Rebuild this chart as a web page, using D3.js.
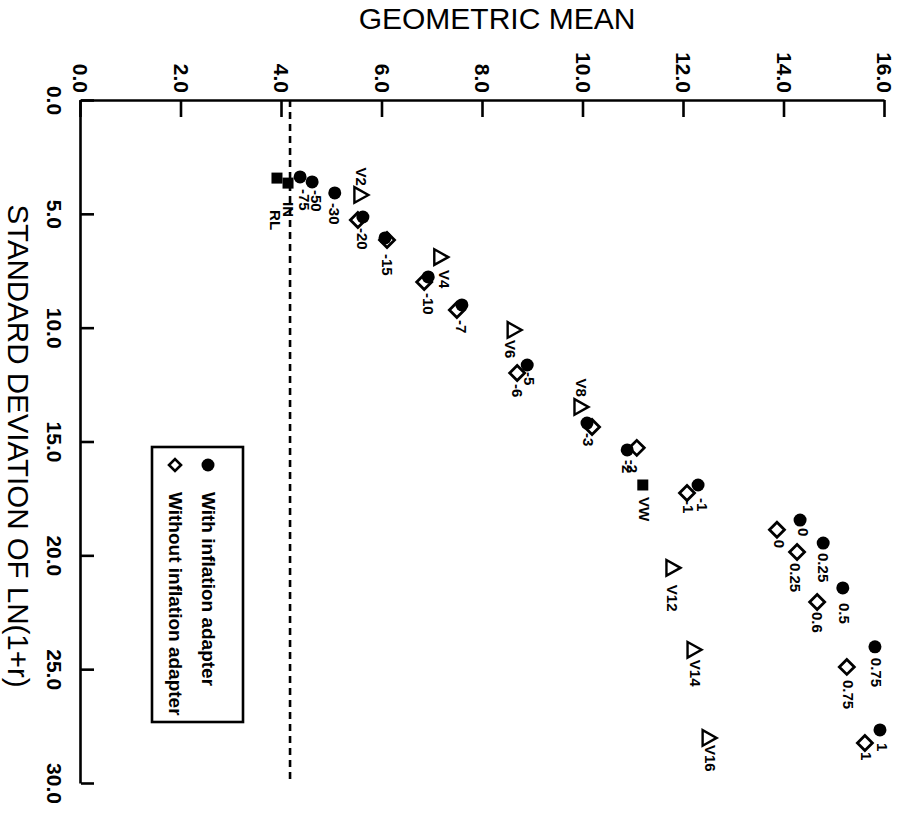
<!DOCTYPE html>
<html><head><meta charset="utf-8">
<script src="https://cdn.jsdelivr.net/npm/d3@7"></script>
<style>body{margin:0;background:#fff} svg{display:block}</style>
</head><body>
<script>
// ---- data (x: standard deviation of ln(1+r), y: geometric mean) ----
const circleLabels = ["-75","-50","-30","-20","-15","-10","-7","-5","-3","-2","-1","0","0.25","0.5","0.75","1"];
const circleSD = [3.38,3.60,4.08,5.14,6.06,7.77,9.00,11.64,14.19,15.37,16.91,18.45,19.46,21.43,24.02,27.67];
const circleGM = [4.36,4.60,5.05,5.61,6.05,6.91,7.58,8.88,10.07,10.87,12.28,14.31,14.77,15.16,15.80,15.90];

const diamondLabels = ["","","","","-6","","-2","-1","0","0.25","0.6","0.75","1"];
const diamondSD = [5.27,6.15,7.99,9.22,11.99,14.36,15.28,17.26,18.88,19.85,22.05,24.90,28.24];
const diamondGM = [5.51,6.09,6.83,7.48,8.68,10.17,11.06,12.06,13.85,14.25,14.65,15.24,15.60];

const squareLabels = ["RL","IN","VW"];
const squareSD = [3.43,3.65,16.91];
const squareGM = [3.90,4.12,11.18];

const triLabels = ["V2","V4","V6","V8","V12","V14","V16"];
const triSD = [4.17,6.90,10.10,13.48,20.55,24.15,28.02];
const triGM = [5.55,7.14,8.60,9.93,11.76,12.18,12.48];

const refLineGM = 4.16;
const sdTicks = [0,5,10,15,20,25,30];
const gmTicks = [0,2,4,6,8,10,12,14,16];
const legendLabels = ["With inflation adapter","Without inflation adapter"];
const xTitle = "STANDARD DEVIATION OF LN(1+r)";
const yTitle = "GEOMETRIC MEAN";

// ---- layout: label nudges [along, across] ----
const nudge = {
  "c:-75":[12,4],"c:-50":[8,4],"c:-30":[10,0],"c:-20":[11,0],"c:-15":[16,2],"c:-10":[16,0],
  "c:-7":[15,0],"c:-5":[7,2],"c:-3":[10,1],"c:-2":[10,0],"c:-1":[13,4],"c:0":[8,3],
  "c:0.25":[10,0],"c:0.5":[15,2],"c:0.75":[11,2],"c:1":[13,3],
  "d:-6":[11,0],"d:-2":[12,-4],"d:-1":[7,1],"d:0":[10,3],"d:0.25":[11,-2],"d:0.6":[10,0],
  "d:0.75":[13,2],"d:1":[9,2],
  "s:RL":[32,-1],"s:IN":[19,0],"s:VW":[12,2],
  "t:V2":[-9,2],"t:V4":[13,5],"t:V6":[10,-3],"t:V8":[-10,2],"t:V12":[17,1],"t:V14":[10,2],"t:V16":[7,2]
};

const FONT = "'Liberation Sans', Arial, Helvetica, sans-serif";
const W = 683, H = 804;
const svg = d3.select("body").append("svg").attr("width",905).attr("height",815)
  .style("font-family", FONT);
svg.append("rect").attr("width",905).attr("height",815).attr("fill","#fff");
// whole chart is rotated 90deg clockwise
const g = svg.append("g").attr("transform","translate(885,100) rotate(90)");

const x = d3.scaleLinear().domain([0,30]).range([0,W]);
const y = d3.scaleLinear().domain([0,16]).range([H,0]);

// axes
const xAxis = g.append("g").attr("transform",`translate(0,${H})`)
  .call(d3.axisBottom(x).tickValues(sdTicks).tickSize(-13).tickSizeOuter(0).tickFormat(d3.format(".1f")));
xAxis.selectAll("text").attr("y",27).attr("dy","0.35em")
  .style("font-size","21px").style("font-weight","bold").style("font-family",FONT).attr("fill","#000");
const yAxis = g.append("g")
  .call(d3.axisLeft(y).tickValues(gmTicks).tickSize(-17).tickSizeOuter(0).tickPadding(7).tickFormat(d3.format(".1f")));
yAxis.selectAll("text").attr("dy","0.35em")
  .style("font-size","21px").style("font-weight","bold").style("font-family",FONT).attr("fill","#000");
[xAxis,yAxis].forEach(a=>{
  a.select(".domain").attr("stroke","#000").attr("stroke-width",2.6);
  a.selectAll(".tick line").attr("stroke","#000").attr("stroke-width",2.6);
});

// titles
g.append("text").attr("x",346).attr("y",H+63).attr("text-anchor","middle")
  .attr("dominant-baseline","central").style("font-size","29.5px").text(xTitle);
g.append("text").attr("transform",`translate(-82,${885-497}) rotate(-90)`).attr("text-anchor","middle")
  .attr("dominant-baseline","central").style("font-size","30px").text(yTitle);

// reference dashed line
g.append("line").attr("x1",x(0)).attr("x2",x(30)).attr("y1",y(refLineGM)).attr("y2",y(refLineGM))
  .attr("stroke","#000").attr("stroke-width",2.6).attr("stroke-dasharray","7,5");

const diamondPath = "M0,-7.5L7.5,0L0,7.5L-7.5,0Z";
const triPath = "M0,-8.5L7.8,5.5L-7.8,5.5Z";

function labels(prefix, labs, sd, gm){
  labs.forEach((l,i)=>{
    if(!l) return;
    const n = nudge[prefix+":"+l] || [11,0];
    g.append("text")
      .attr("x", x(sd[i]) + n[0]).attr("y", y(gm[i]) - n[1])
      .attr("text-anchor", n[0] < 0 ? "end" : "start")
      .attr("dominant-baseline","central")
      .style("font-size","15px").style("font-weight","bold").text(l);
  });
}

// diamonds (without inflation adapter)
g.selectAll(".dia").data(diamondSD).join("path").attr("class","dia")
  .attr("transform",(d,i)=>`translate(${x(d)},${y(diamondGM[i])})`).attr("d",diamondPath)
  .attr("fill","#fff").attr("stroke","#000").attr("stroke-width",2.8);
// circles (with inflation adapter)
g.selectAll(".cir").data(circleSD).join("circle").attr("class","cir")
  .attr("cx",d=>x(d)).attr("cy",(d,i)=>y(circleGM[i])).attr("r",6.5).attr("fill","#000");
// squares
g.selectAll(".sq").data(squareSD).join("rect").attr("class","sq")
  .attr("x",d=>x(d)-5.5).attr("y",(d,i)=>y(squareGM[i])-5.5).attr("width",11).attr("height",11).attr("fill","#000");
// triangles
g.selectAll(".tri").data(triSD).join("path").attr("class","tri")
  .attr("transform",(d,i)=>`translate(${x(d)},${y(triGM[i])})`).attr("d",triPath)
  .attr("fill","none").attr("stroke","#000").attr("stroke-width",2.4);

labels("d", diamondLabels, diamondSD, diamondGM);
labels("c", circleLabels, circleSD, circleGM);
labels("s", squareLabels, squareSD, squareGM);
labels("t", triLabels, triSD, triGM);

// legend
const lg = g.append("g");
lg.append("rect").attr("x",347).attr("y",642).attr("width",275).attr("height",91)
  .attr("fill","#fff").attr("stroke","#000").attr("stroke-width",2.6);
lg.append("circle").attr("cx",365).attr("cy",677).attr("r",6.5).attr("fill","#000");
lg.append("path").attr("transform","translate(365,710)").attr("d","M0,-6L6,0L0,6L-6,0Z")
  .attr("fill","#fff").attr("stroke","#000").attr("stroke-width",2.6);
legendLabels.forEach((t,i)=>{
  lg.append("text").attr("x",392).attr("y",i===0?677:710).attr("dominant-baseline","central")
    .style("font-size","19px").style("font-weight","bold").text(t);
});
</script>
</body></html>
